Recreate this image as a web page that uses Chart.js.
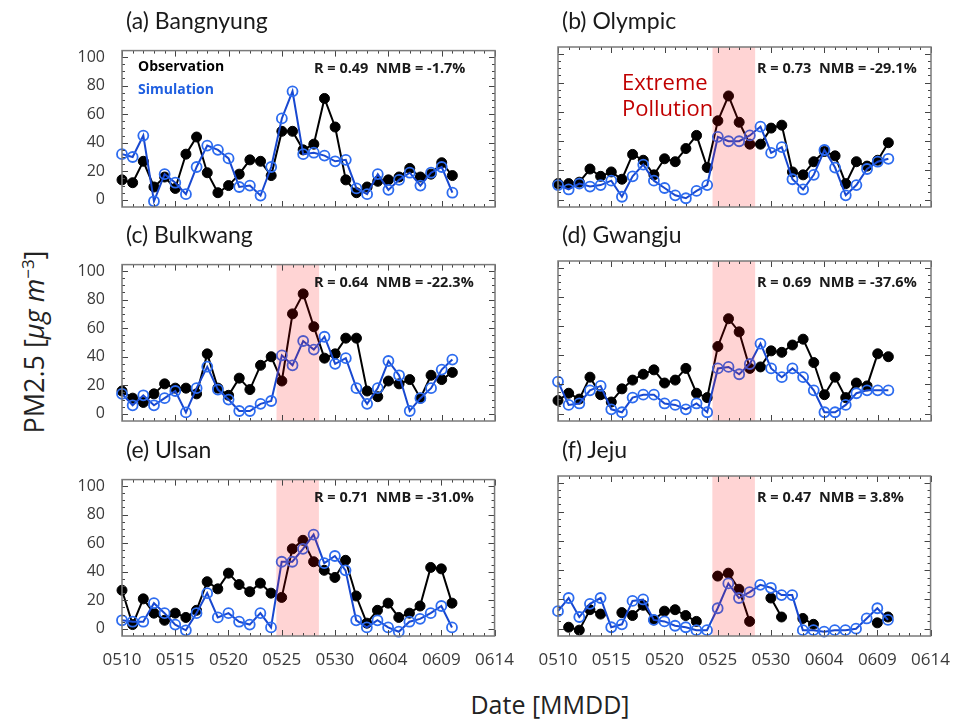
<!DOCTYPE html>
<html>
<head>
<meta charset="utf-8">
<script src="https://cdn.jsdelivr.net/npm/chart.js@4.4.1/dist/chart.umd.min.js"></script>
<style>
  body { margin: 0; background: #fff; width: 957px; height: 728px; overflow: hidden; position: relative; font-family: "Open Sans", sans-serif; }
  canvas { position: absolute; }
  .ttl { position: absolute; font-family: Lato, sans-serif; font-size: 23px; line-height: 1; color: #1a1a1a; white-space: nowrap; }
  .stat { position: absolute; font-size: 14.5px; line-height: 1; font-weight: bold; color: #1a1a1a; white-space: nowrap; }
  .leg { position: absolute; font-size: 14px; line-height: 1; font-weight: bold; white-space: nowrap; }
  .extreme { position: absolute; left: 622px; top: 68px; font-size: 22px; line-height: 26px; color: #c00000; }
  .xlab { position: absolute; left: 400px; width: 300px; top: 692px; text-align: center; font-size: 25px; line-height: 1; color: #222; }
  .ylab { position: absolute; left: 33px; top: 342px; transform: translate(-50%, -50%) rotate(-90deg); font-size: 27px; line-height: 1; color: #222; white-space: nowrap; }
  .ylab sup { font-size: 17px; }
</style>
</head>
<body>

<script>
// day index 0 = 0510 ... 31 = 0610
const dateTicks = ['0510', '0515', '0520', '0525', '0530', '0604', '0609', '0614'];
const yTicks = [0, 20, 40, 60, 80, 100];
const shadeRange = [14.5, 18.5];

const obsA = [14, 12, 27, 9, 16, 8, 32, 44, 19, 5, 10, 18, 28, 27, 17, 48, 48, 35, 39, 71, 51, 14, 5, 9, 13, 14, 16, 22, 16, 18, 26, 17];
const simA = [32, 30, 45, -1, 18, 12, 4, 23, 38, 35, 29, 9, 10, 3, 23, 57, 76, 32, 33, 31, 27, 28, 8, 4, 18, 7, 14, 19, 10, 19, 23, 5];

const obsB = [11, 11, 12, 21, 16, 19, 14, 31, 27, 17, 28, 26, 35, 44, 22, 54, 71, 53, 38, 38, 49, 51, 19, 17, 26, 33, 30, 11, 26, 23, 27, 39];
const simB = [10, 7, 11, 9, 10, 13, 2, 16, 24, 13, 8, 3, 1, 6, 10, 43, 40, 40, 44, 50, 32, 36, 14, 7, 17, 34, 22, 3, 10, 21, 26, 28];

const obsC = [16, 11, 8, 14, 21, 18, 18, 14, 42, 18, 13, 25, 17, 34, 40, 23, 70, 84, 61, 39, 42, 53, 53, 16, 12, 23, 21, 24, 11, 27, 24, 29];
const simC = [14, 6, 13, 6, 11, 16, 1, 18, 33, 17, 10, 2, 2, 7, 9, 41, 34, 51, 45, 54, 35, 39, 18, 7, 18, 37, 27, 2, 11, 18, 31, 38];

const obsD = [9, 14, 10, 25, 13, 8, 17, 23, 27, 30, 21, 23, 31, 14, 11, 46, 65, 56, 31, 32, 43, 42, 47, 51, 35, 13, 25, 11, 21, 19, 41, 39];
const simD = [22, 6, 7, 16, 19, 3, 1, 11, 13, 13, 7, 6, 3, 7, 1, 31, 32, 27, 34, 48, 31, 25, 31, 25, 16, 1, 1, 6, 14, 16, 16, 16];

const obsE = [27, 3, 21, 11, 6, 11, 8, 13, 33, 28, 39, 31, 26, 32, 25, 22, 56, 62, 47, 41, 36, 48, 23, 4, 13, 18, 8, 11, 16, 43, 42, 18];
const simE = [6, 5, 5, 18, 11, 3, -1, 11, 25, 8, 11, 5, 3, 11, 1, 47, 47, 56, 66, 46, 51, 41, 6, 1, 6, 1, -2, 5, 7, 11, 16, 1];

const obsF = [null, 1, -1, 13, 10, null, 11, 9, 16, 6, 12, 13, 9, 5, null, 36, 38, 27, 5, null, 21, 8, null, 7, 3, null, null, null, null, null, 4, 8];
const simF = [12, 21, 8, 17, 21, 1, 3, 19, 20, 6, 5, 2, 1, -1, -1, 14, 31, 21, 25, 30, 28, 23, 23, -1, -1, -2, -1, -1, 0, 7, 14, 6];

const PAD_L = 60, PAD_R = 25, PAD_T = 15, PAD_B = 35;
const PLOT_W = 373, PLOT_H = 160;
const colLeft = [122, 558];
const rowTop = [47, 261, 476];

const panels = [
  { title: '(a) Bangnyung', obs: obsA, sim: simA, stat: 'R = 0.49\u00a0\u00a0NMB = -1.7%', col: 0, row: 0, shade: false },
  { title: '(b) Olympic',   obs: obsB, sim: simB, stat: 'R = 0.73\u00a0\u00a0NMB = -29.1%', col: 1, row: 0, shade: true },
  { title: '(c) Bulkwang',  obs: obsC, sim: simC, stat: 'R = 0.64\u00a0\u00a0NMB = -22.3%', col: 0, row: 1, shade: true },
  { title: '(d) Gwangju',   obs: obsD, sim: simD, stat: 'R = 0.69\u00a0\u00a0NMB = -37.6%', col: 1, row: 1, shade: true },
  { title: '(e) Ulsan',     obs: obsE, sim: simE, stat: 'R = 0.71\u00a0\u00a0NMB = -31.0%', col: 0, row: 2, shade: true },
  { title: '(f) Jeju',      obs: obsF, sim: simF, stat: 'R = 0.47\u00a0\u00a0NMB = 3.8%', col: 1, row: 2, shade: true },
];

const framePlugin = {
  id: 'frame',
  afterDatasetsDraw(chart, args, o) {
    if (!o.shade) return;
    const { ctx, chartArea: a, scales: { x } } = chart;
    const x0 = x.getPixelForValue(shadeRange[0]);
    const x1 = x.getPixelForValue(shadeRange[1]);
    ctx.save();
    ctx.fillStyle = 'rgba(255, 0, 0, 0.17)';
    ctx.fillRect(x0, a.top, x1 - x0, a.bottom - a.top);
    ctx.restore();
  },
  afterDraw(chart) {
    const { ctx, chartArea: a, scales: { x, y } } = chart;
    ctx.save();
    // inward ticks
    ctx.strokeStyle = '#444';
    ctx.lineWidth = 1;
    ctx.beginPath();
    for (let d = 0; d <= 35; d++) {
      const px = Math.round(x.getPixelForValue(d)) + 0.5;
      const len = d % 5 === 0 ? 6 : 3;
      ctx.moveTo(px, a.bottom); ctx.lineTo(px, a.bottom - len);
      ctx.moveTo(px, a.top); ctx.lineTo(px, a.top + len);
    }
    for (let v = 0; v <= 100; v += 5) {
      const py = Math.round(y.getPixelForValue(v)) + 0.5;
      const len = v % 20 === 0 ? 6 : 3;
      ctx.moveTo(a.left, py); ctx.lineTo(a.left + len, py);
      ctx.moveTo(a.right, py); ctx.lineTo(a.right - len, py);
    }
    ctx.stroke();
    // box
    ctx.strokeStyle = '#7a7a7a';
    ctx.lineWidth = 1.5;
    ctx.strokeRect(a.left, a.top, a.right - a.left, a.bottom - a.top);
    ctx.restore();
  }
};

function toPoints(arr) {
  return arr.map((v, i) => ({ x: i, y: v }));
}

function makePanel(p) {
  const cv = document.createElement('canvas');
  const w = PLOT_W + PAD_L + PAD_R, h = PLOT_H + PAD_T + PAD_B;
  cv.width = w; cv.height = h;
  cv.style.left = (colLeft[p.col] - PAD_L) + 'px';
  cv.style.top = (rowTop[p.row] - PAD_T) + 'px';
  cv.style.width = w + 'px'; cv.style.height = h + 'px';
  document.body.appendChild(cv);

  const showY = p.col === 0, showX = p.row === 2;
  new Chart(cv, {
    type: 'line',
    data: {
      datasets: [
        {
          label: 'Observation',
          data: toPoints(p.obs),
          borderColor: '#000',
          backgroundColor: '#000',
          borderWidth: 2,
          pointRadius: 5,
          pointBorderWidth: 1,
          pointBackgroundColor: '#000',
          spanGaps: false,
          order: 2,
          clip: false,
        },
        {
          label: 'Simulation',
          data: toPoints(p.sim),
          borderColor: '#1848d0',
          borderWidth: 2,
          pointRadius: 5,
          pointBorderWidth: 1.8,
          pointBorderColor: '#2d6cf0',
          pointBackgroundColor: 'rgba(255,255,255,0)',
          order: 1,
          clip: false,
        },
      ],
    },
    options: {
      responsive: false,
      animation: false,
      layout: { padding: { top: PAD_T, right: PAD_R, left: 0, bottom: 0 } },
      plugins: { legend: { display: false }, tooltip: { enabled: false }, frame: { shade: p.shade } },
      scales: {
        x: {
          type: 'linear',
          min: 0,
          max: 35,
          grid: { display: false },
          border: { display: false },
          afterBuildTicks: s => { s.ticks = dateTicks.map((t, i) => ({ value: i * 5 })); },
          afterFit: s => { s.height = PAD_B; },
          ticks: {
            display: showX,
            autoSkip: false,
            maxRotation: 0,
            padding: 6,
            color: '#3a3a3a',
            font: { family: 'Open Sans', size: 17 },
            callback: v => dateTicks[Math.round(v / 5)],
          },
        },
        y: {
          min: -5,
          max: 104.5,
          grid: { display: false },
          border: { display: false },
          afterBuildTicks: s => { s.ticks = yTicks.map(v => ({ value: v })); },
          afterFit: s => { s.width = PAD_L; },
          ticks: {
            display: showY,
            padding: 9,
            color: '#3a3a3a',
            font: { family: 'Open Sans', size: 16 },
          },
        },
      },
    },
    plugins: [framePlugin],
  });

  const t = document.createElement('div');
  t.className = 'ttl';
  t.textContent = p.title;
  t.style.left = (colLeft[p.col] + 4) + 'px';
  t.style.top = (rowTop[p.row] - 38) + 'px';
  document.body.appendChild(t);

  const s = document.createElement('div');
  s.className = 'stat';
  s.textContent = p.stat;
  s.style.left = (p.col === 0 ? 314 : 757) + 'px';
  s.style.top = (rowTop[p.row] + 14) + 'px';
  document.body.appendChild(s);
}

panels.forEach(makePanel);
</script>

<div class="leg" style="left:138px; top:59px; color:#000;">Observation</div>
<div class="leg" style="left:138px; top:82px; color:#1f5fe0;">Simulation</div>
<div class="extreme">Extreme<br>Pollution</div>
<div class="ylab">PM2.5 [<i>μg m</i><sup>−3</sup>]</div>
<div class="xlab">Date [MMDD]</div>

</body>
</html>
